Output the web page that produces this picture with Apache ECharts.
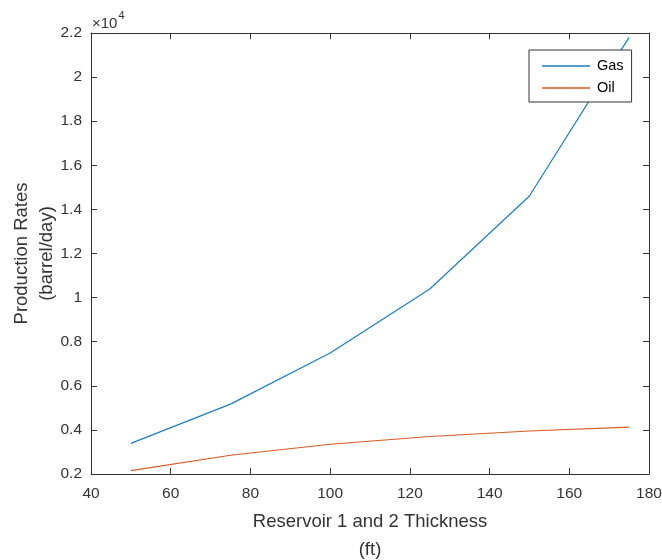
<!DOCTYPE html>
<html><head><meta charset="utf-8">
<script src="https://cdn.jsdelivr.net/npm/echarts@6/dist/echarts.min.js"></script>
<style>html,body{margin:0;padding:0;background:#fff}#c{width:662px;height:560px}</style>
</head><body><div id="c"></div>
<script>
const thickness = [50, 75, 100, 125, 150, 175];
const gasRates = [3390, 5170, 7490, 10390, 14610, 21800];
const oilRates = [2150, 2850, 3350, 3700, 3950, 4130];
const xTicks = [40, 60, 80, 100, 120, 140, 160, 180];
const yTicks = [2000, 4000, 6000, 8000, 10000, 12000, 14000, 16000, 18000, 20000, 22000];

const font = 'Liberation Sans, Arial, Helvetica, sans-serif';
const axisCol = '#333333';
const textCol = '#333333';
const chart = echarts.init(document.getElementById('c'));
const baseAxis = {
  axisLine: {show: true, onZero: false, lineStyle: {color: axisCol, width: 1}},
  axisTick: {show: true, inside: true, length: 6, lineStyle: {color: axisCol}},
  splitLine: {show: false}
};
chart.setOption({
  animation: false,
  backgroundColor: '#fff',
  grid: {left: 91, right: 13, top: 33, bottom: 86, containLabel: false, outerBoundsMode: 'none'},
  legend: {
    left: 529, top: 50, orient: 'vertical',
    backgroundColor: '#fff', borderColor: axisCol, borderWidth: 1, borderRadius: 0,
    padding: [8, 8, 6, 13], itemGap: 6, itemWidth: 48, itemHeight: 1.5,
    icon: 'rect',
    textStyle: {fontFamily: font, fontSize: 14.5, color: '#000', lineHeight: 16, padding: [0, 0, 0, 2]},
    data: ['Gas', 'Oil']
  },
  xAxis: [
    Object.assign({}, baseAxis, {
      type: 'value', min: 40, max: 180, interval: 20,
      axisLabel: {fontFamily: font, fontSize: 15.5, color: textCol, margin: 12},
      name: 'Reservoir 1 and 2 Thickness\n(ft)', nameLocation: 'middle', nameGap: 34,
      nameMoveOverlap: false,
      nameTextStyle: {fontFamily: font, fontSize: 18.5, color: textCol, lineHeight: 28, verticalAlign: 'top'}
    }),
    Object.assign({}, baseAxis, {
      type: 'value', min: 40, max: 180, interval: 20, position: 'top',
      axisLabel: {show: false}
    })
  ],
  yAxis: [
    Object.assign({}, baseAxis, {
      type: 'value', min: 2000, max: 22000, interval: 2000,
      axisLabel: {fontFamily: font, fontSize: 15.5, color: textCol, margin: 9,
        formatter: v => String(+(v / 10000).toFixed(1))},
      name: 'Production Rates\n(barrel/day)', nameLocation: 'middle', nameGap: 32,
      nameRotate: 90, nameMoveOverlap: false,
      nameTextStyle: {fontFamily: font, fontSize: 18.5, color: textCol, lineHeight: 25}
    }),
    Object.assign({}, baseAxis, {
      type: 'value', min: 2000, max: 22000, interval: 2000, position: 'right',
      axisLabel: {show: false}
    })
  ],
  graphic: [{
    type: 'text', left: 92, top: 10,
    style: {
      text: '{a|×10}{b|4}', fill: textCol,
      rich: {
        a: {fontFamily: font, fontSize: 15, fill: textCol, verticalAlign: 'bottom', padding: [6, 0, 0, 0]},
        b: {fontFamily: font, fontSize: 11, fill: textCol, verticalAlign: 'top', padding: [0, 0, 10, 1]}
      }
    }
  }],
  series: [
    {name: 'Gas', type: 'line', data: thickness.map((t, i) => [t, gasRates[i]]),
     showSymbol: false, symbol: 'none', color: '#1a7ec0', lineStyle: {width: 1.2, color: '#1a7ec0'}},
    {name: 'Oil', type: 'line', data: thickness.map((t, i) => [t, oilRates[i]]),
     showSymbol: false, symbol: 'none', color: '#d95a22', lineStyle: {width: 1.2, color: '#d95a22'}}
  ]
});
</script></body></html>
